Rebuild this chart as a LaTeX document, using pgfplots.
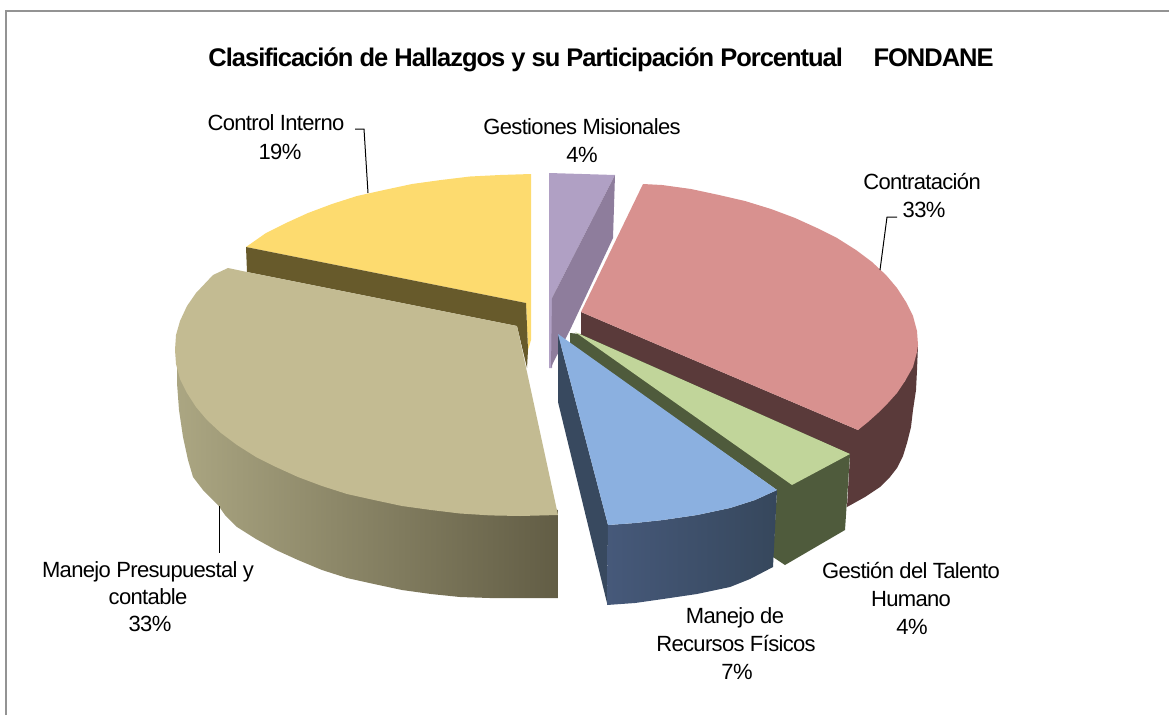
\documentclass[border=0pt]{standalone}
\usepackage{pgfplots}
\pgfplotsset{compat=1.18}
\usepackage{fontspec}
\setmainfont{Liberation Sans}
\definecolor{tantop}{HTML}{C3BB92}
\definecolor{tanL}{RGB}{171,166,130}
\definecolor{tanR}{RGB}{98,93,69}
\definecolor{bluL}{RGB}{70,89,122}
\definecolor{bluR}{RGB}{54,71,92}
\definecolor{redtop}{HTML}{D8918F}
\definecolor{redside}{HTML}{5A3A3A}
\definecolor{yeltop}{HTML}{FDDB6F}
\definecolor{yelside}{HTML}{675A2B}
\definecolor{purtop}{HTML}{B0A0C4}
\definecolor{purside}{HTML}{8E7D9C}
\definecolor{blutop}{HTML}{8BB0E0}
\definecolor{bluside}{HTML}{38495F}
\definecolor{grntop}{HTML}{C1D59A}
\definecolor{grnside}{HTML}{4F5B3C}
\definecolor{framec}{HTML}{939393}
\newcommand{\lab}[3]{\node[anchor=base,inner sep=0pt] at (axis cs:#1,#2) {\fontsize{22}{25}\selectfont\addfontfeature{LetterSpace=-3}#3};}
\begin{document}
\begin{tikzpicture}
\useasboundingbox (0,0) rectangle (1169pt,715pt);
\begin{axis}[at={(0,0)},anchor=south west,scale only axis,width=1169pt,height=715pt,
  xmin=0,xmax=1169,ymin=0,ymax=715,y dir=reverse,hide axis,clip=false]
% frame
\addplot[framec,line width=1.6pt] coordinates {(6,715)(6,11)(1169,11)};
% purple
\addplot[fill=purtop,draw=none] coordinates {(549,173)(615,175)(552,298)(552,368)(549,368)} --cycle;
\addplot[fill=purside,draw=none] coordinates {(615,175)(613,238)(570,330)(553,363)(551,368)(552,298)} --cycle;
% red side
\addplot[fill=redside,draw=none] coordinates {(581,312)(581,337)(850,456)(847,507)(865,497)(880,487)(890,477)(897,468)(903,456)(907,443)(911,427)(913,410)(916,390)(917,370)(918,345)(905,381)(858,430)} --cycle;
% red top
\addplot[fill=redtop,draw=none] coordinates {(643,184)(662,185)(691,189)(719,195)(745,201)(771,209)(795,218)(817,228)(837,238)(856,250)(872,262)(886,275)(897,288)(906,302)(913,316)(917,331)(918,345)(917,352)(913,367)(905,381)(897,393)(888,403)(878,413)(868,422)(858,430)(581,312)} --cycle;
% green
\addplot[fill=grnside,draw=none] coordinates {(570,333)(580,334)(850,454)(845,530)(785,565)(773,557)(777,490)(570,344)} --cycle;
\addplot[fill=grntop,draw=none] coordinates {(575,332)(850,454)(792,485)} --cycle;
% blue
\addplot[fill=bluside,draw=none] coordinates {(558,334)(558,402)(607,603)(608,525)} --cycle;
\addplot[left color=bluL,right color=bluR,draw=none] coordinates {(608,525)(635,523)(663,520)(697,515)(730,508)(755,500)(777,490)(773,567)(750,579)(730,587)(697,594)(663,599)(635,603)(607,605)} --cycle;
\addplot[fill=blutop,draw=none] coordinates {(558,334)(777,490)(755,500)(730,508)(697,515)(663,520)(635,523)(608,525)} --cycle;
% yellow
\addplot[fill=yeltop,draw=none] coordinates {(531,174)(531,340)(528,350)(526,303)(246,247)(266,233)(286,223)(308,213)(332,204)(357,196)(384,190)(412,184)(441,180)(470,176.5)(500,175)} --cycle;
\addplot[fill=yelside,draw=none] coordinates {(246,247)(247,272)(517,326)(527,368)(528,350)(526,303)} --cycle;
% tan side
\addplot[left color=tanL,right color=tanR,draw=none] coordinates {(177,365)(200,400)(230,425)(300,460)(400,495)(500,505)(558,510)(558,598)(520,598)(490,598)(460,597)(431,594)(402,590)(374,584)(347,578)(322,570)(298,560)(276,550)(256,539)(237,527)(225,515)(218,505)(203,490)(193,477)(188,460)(183,437)(179,410)(177,383)} --cycle;
% tan top
\addplot[fill=tantop,draw=none] coordinates {(228,268)(247,272)(517,326)(558,515)(520,516)(490,515.4)(460,513.5)(431,510)(402,506)(374,500)(347,494)(322,486)(298,477)(276,467)(256,457)(237,445)(221,433)(207,420)(196,407)(187,393)(180,379)(176,364)(175,350)(176,335)(180,321)(187,306)(196,293)(213,275)} --cycle;
% leaders
\addplot[black,line width=1pt] coordinates {(355,129)(364,129)(368,193)};
\addplot[black,line width=1pt] coordinates {(897,217)(887,217)(880,270)};
\addplot[black,line width=1pt] coordinates {(219,506)(219,553)};
% texts
\node[anchor=base,inner sep=0pt] at (axis cs:601,66) {\fontsize{25.5}{30}\selectfont\bfseries\addfontfeature{LetterSpace=-4}Clasificación de Hallazgos y su Participación Porcentual\hspace{1.2em}FONDANE};
\lab{276}{130}{Control Interno}
\lab{280}{159}{19\%}
\lab{582}{134}{Gestiones Misionales}
\lab{582}{162}{4\%}
\lab{922}{189}{Contratación}
\lab{924}{217}{33\%}
\lab{148}{577}{Manejo Presupuestal y}
\lab{148}{604}{contable}
\lab{150}{631}{33\%}
\lab{911}{578}{Gestión del Talento}
\lab{911}{606}{Humano}
\lab{912}{634}{4\%}
\lab{735}{623}{Manejo de}
\lab{736}{651}{Recursos Físicos}
\lab{737}{679}{7\%}
\end{axis}
\end{tikzpicture}
\end{document}
